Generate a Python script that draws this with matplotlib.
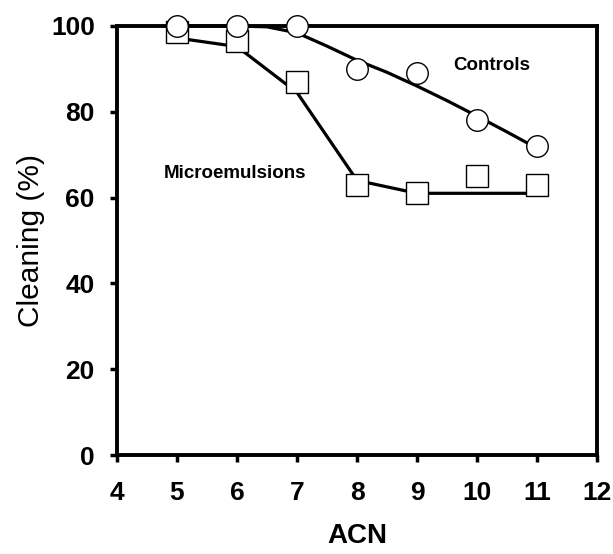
import matplotlib
matplotlib.use("Agg")
import matplotlib.pyplot as plt

# Measured cleaning efficiency vs alkane carbon number
acn = [5, 6, 7, 8, 9, 10, 11]
controls = [100, 100, 100, 90, 89, 78, 72]
microemulsions = [98.5, 96.5, 87, 63, 61, 65, 63]

# Trend curves drawn through the data
controls_fit_x = [5, 6, 6.5, 7, 7.5, 8, 8.5, 9, 9.5, 10, 10.5, 11]
controls_fit_y = [100, 100, 99.8, 98.4, 95.3, 92.0, 89.2, 86.0, 82.6, 79.0, 75.3, 71.5]
micro_fit_x = [5, 6, 7, 8, 9, 10, 11]
micro_fit_y = [97.2, 95.2, 84.5, 64, 61, 61, 61]

plt.rcParams['font.family'] = ['Liberation Sans', 'DejaVu Sans']

fig = plt.figure(figsize=(6.13, 5.54), dpi=100)
ax = fig.add_axes([0.1909, 0.1787, 0.783, 0.7744])

ax.plot(controls_fit_x, controls_fit_y, color='black', lw=2.3, zorder=3, clip_on=False)
ax.plot(micro_fit_x, micro_fit_y, color='black', lw=2.3, zorder=3, clip_on=False)

ax.plot(acn, microemulsions, ls='none', marker='s', ms=15.5, mfc='white',
        mec='black', mew=1.0, zorder=4, clip_on=False)
ax.plot(acn, controls, ls='none', marker='o', ms=15.5, mfc='white',
        mec='black', mew=1.0, zorder=5, clip_on=False)

ax.text(9.6, 90.8, 'Controls', fontsize=13.5, fontweight='bold', ha='left', va='center')
ax.text(5.96, 65.6, 'Microemulsions', fontsize=13.5, fontweight='bold', ha='center', va='center')

ax.set_xlim(4, 12)
ax.set_ylim(0, 100)
ax.set_xticks(range(4, 13))
ax.set_yticks(range(0, 101, 20))

for s in ax.spines.values():
    s.set_linewidth(2.8)
ax.tick_params(axis='both', direction='out', length=5, width=2.5, labelsize=19)
for lbl in ax.get_xticklabels() + ax.get_yticklabels():
    lbl.set_fontweight('bold')
ax.tick_params(axis='x', pad=14)
ax.tick_params(axis='y', pad=11)

ax.set_xlabel('ACN', fontsize=20, fontweight='bold', labelpad=13)
ax.set_ylabel('Cleaning (%)', fontsize=21.5, fontweight='medium', labelpad=4)

fig.savefig('out.png', dpi=100)
